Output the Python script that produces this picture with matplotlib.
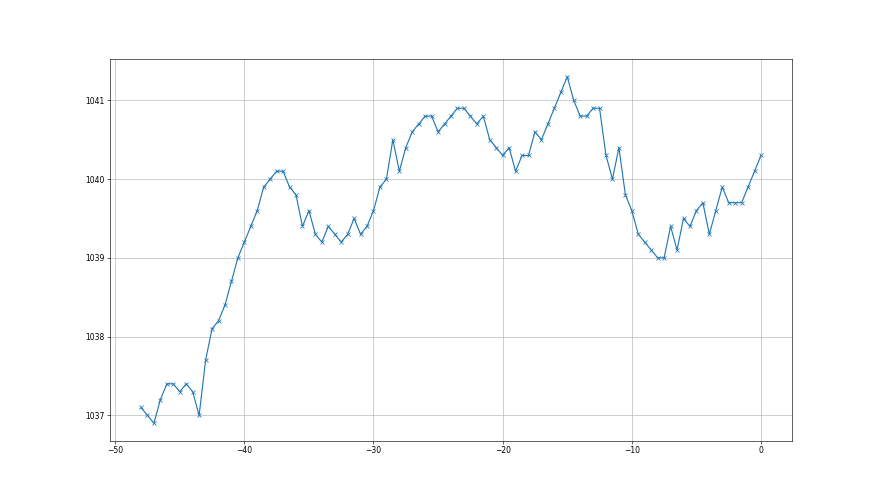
import matplotlib
matplotlib.use("Agg")
import matplotlib.pyplot as plt
import numpy as np

# time offsets, every half unit from -48 to 0
hours = np.arange(-48, 0.01, 0.5)

pressure = [
    1037.1, 1037.0, 1036.9, 1037.2, 1037.4, 1037.4, 1037.3, 1037.4, 1037.3, 1037.0,
    1037.7, 1038.1, 1038.2, 1038.4, 1038.7, 1039.0, 1039.2, 1039.4, 1039.6, 1039.9,
    1040.0, 1040.1, 1040.1, 1039.9, 1039.8, 1039.4, 1039.6, 1039.3, 1039.2, 1039.4,
    1039.3, 1039.2, 1039.3, 1039.5, 1039.3, 1039.4, 1039.6, 1039.9, 1040.0, 1040.5,
    1040.1, 1040.4, 1040.6, 1040.7, 1040.8, 1040.8, 1040.6, 1040.7, 1040.8, 1040.9,
    1040.9, 1040.8, 1040.7, 1040.8, 1040.5, 1040.4, 1040.3, 1040.4, 1040.1, 1040.3,
    1040.3, 1040.6, 1040.5, 1040.7, 1040.9, 1041.1, 1041.3, 1041.0, 1040.8, 1040.8,
    1040.9, 1040.9, 1040.3, 1040.0, 1040.4, 1039.8, 1039.6, 1039.3, 1039.2, 1039.1,
    1039.0, 1039.0, 1039.4, 1039.1, 1039.5, 1039.4, 1039.6, 1039.7, 1039.3, 1039.6,
    1039.9, 1039.7, 1039.7, 1039.7, 1039.9, 1040.1, 1040.3,
]

fig, ax = plt.subplots(figsize=(16, 9), dpi=55)
ax.plot(hours, pressure, marker="x", color="#1f77b4")
ax.grid(True)
ax.set_yticks([1037, 1038, 1039, 1040, 1041])
fig.savefig("out.png", dpi=55)
plt.close(fig)
